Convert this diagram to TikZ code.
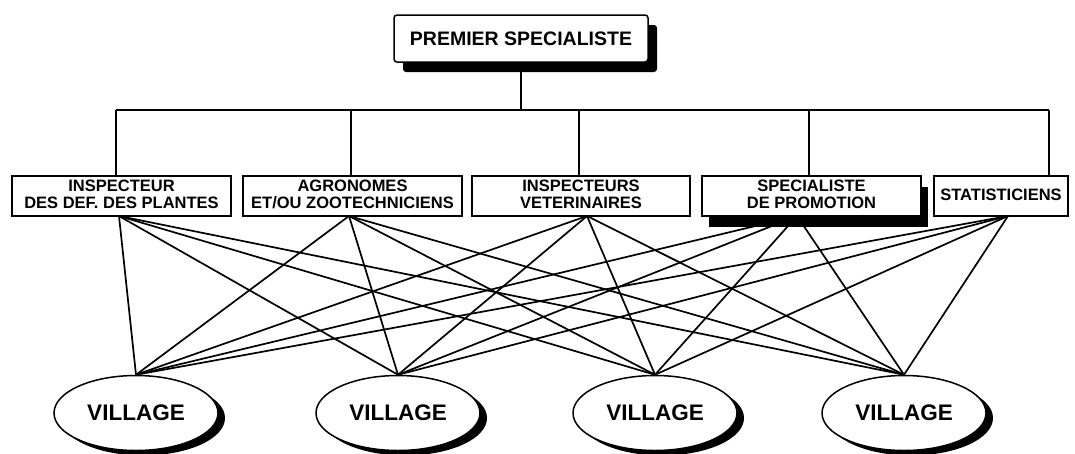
\documentclass[tikz,border=0pt]{standalone}
\usepackage{fontspec}
\setmainfont{Liberation Sans}
\usetikzlibrary{shapes.geometric,shadows}
\pgfdeclarelayer{bg}
\pgfsetlayers{bg,main}
\begin{document}
\begin{tikzpicture}[x=1pt,y=-1pt,
  unit/.style={draw, line width=1.4pt, fill=white, minimum height=40pt,
    inner sep=0pt, align=center, font=\fontsize{16.5}{17}\selectfont\bfseries},
  village/.style={ellipse, draw, line width=1.5pt, fill=white,
    minimum width=164pt, minimum height=75pt, inner sep=0pt,
    font=\fontsize{22.5}{24}\selectfont\bfseries,
    drop shadow={shadow xshift=7pt, shadow yshift=-5pt, fill=black, opacity=1}},
  link/.style={line width=1.7pt},
  tree/.style={line width=1.3pt},
]
\useasboundingbox (0,0) rectangle (1075,453);
\begin{pgfonlayer}{bg}
  \fill[white] (0,0) rectangle (1075,453);
\end{pgfonlayer}

% head of the service
\node[unit, rounded corners=3pt, minimum width=254pt, minimum height=47pt,
  line width=1.5pt, font=\fontsize{19.5}{21}\selectfont\bfseries,
  drop shadow={shadow xshift=9pt, shadow yshift=-10pt, fill=black, opacity=1}]
  (top) at (521,38.5) {PREMIER SPECIALISTE};

% specialists
\node[unit, minimum width=219pt] (b1) at (121.5,196) {INSPECTEUR\\DES DEF. DES PLANTES\vphantom{p}};
\node[unit, minimum width=219pt] (b2) at (352.5,196) {AGRONOMES\\ET/OU ZOOTECHNICIENS\vphantom{p}};
\node[unit, minimum width=218pt] (b3) at (581,196) {INSPECTEURS\\VETERINAIRES\vphantom{p}};
\node[unit, minimum width=219pt, line width=1.8pt,
  drop shadow={shadow xshift=7pt, shadow yshift=-11pt, fill=black, opacity=1}]
  (b4) at (811.5,196) {SPECIALISTE\\DE PROMOTION\vphantom{p}};
\node[unit, minimum width=134pt] (b5) at (1001,196) {STATISTICIENS\vphantom{p}};

% villages
\node[village] (v1) at (136,413) {VILLAGE};
\node[village] (v2) at (398,413) {VILLAGE};
\node[village] (v3) at (655,413) {VILLAGE};
\node[village] (v4) at (904,413) {VILLAGE};

% hierarchy tree
\coordinate (j1) at (116,110);
\coordinate (j2) at (351,110);
\coordinate (j3) at (579,110);
\coordinate (j4) at (809,110);
\coordinate (j5) at (1049,110);
\draw[tree] (top.south) -- (top.south |- j1);
\draw[tree] (j1) -- (j5);
\draw[tree] (j1) -- (j1 |- b1.north);
\draw[tree] (j2) -- (j2 |- b2.north);
\draw[tree] (j3) -- (j3 |- b3.north);
\draw[tree] (j4) -- (j4 |- b4.north);
\draw[tree] (j5) -- (j5 |- b5.north);

% every specialist serves every village
\coordinate (o1) at (119,216);
\coordinate (o2) at (349,216);
\coordinate (o3) at (587,216);
\coordinate (o4) at (797,216);
\coordinate (o5) at (1008,216);
\begin{pgfonlayer}{bg}
  \foreach \s in {1,...,5}
    \foreach \v in {1,...,4}
      \draw[link] (o\s) -- (v\v.north);
\end{pgfonlayer}
\end{tikzpicture}
\end{document}
